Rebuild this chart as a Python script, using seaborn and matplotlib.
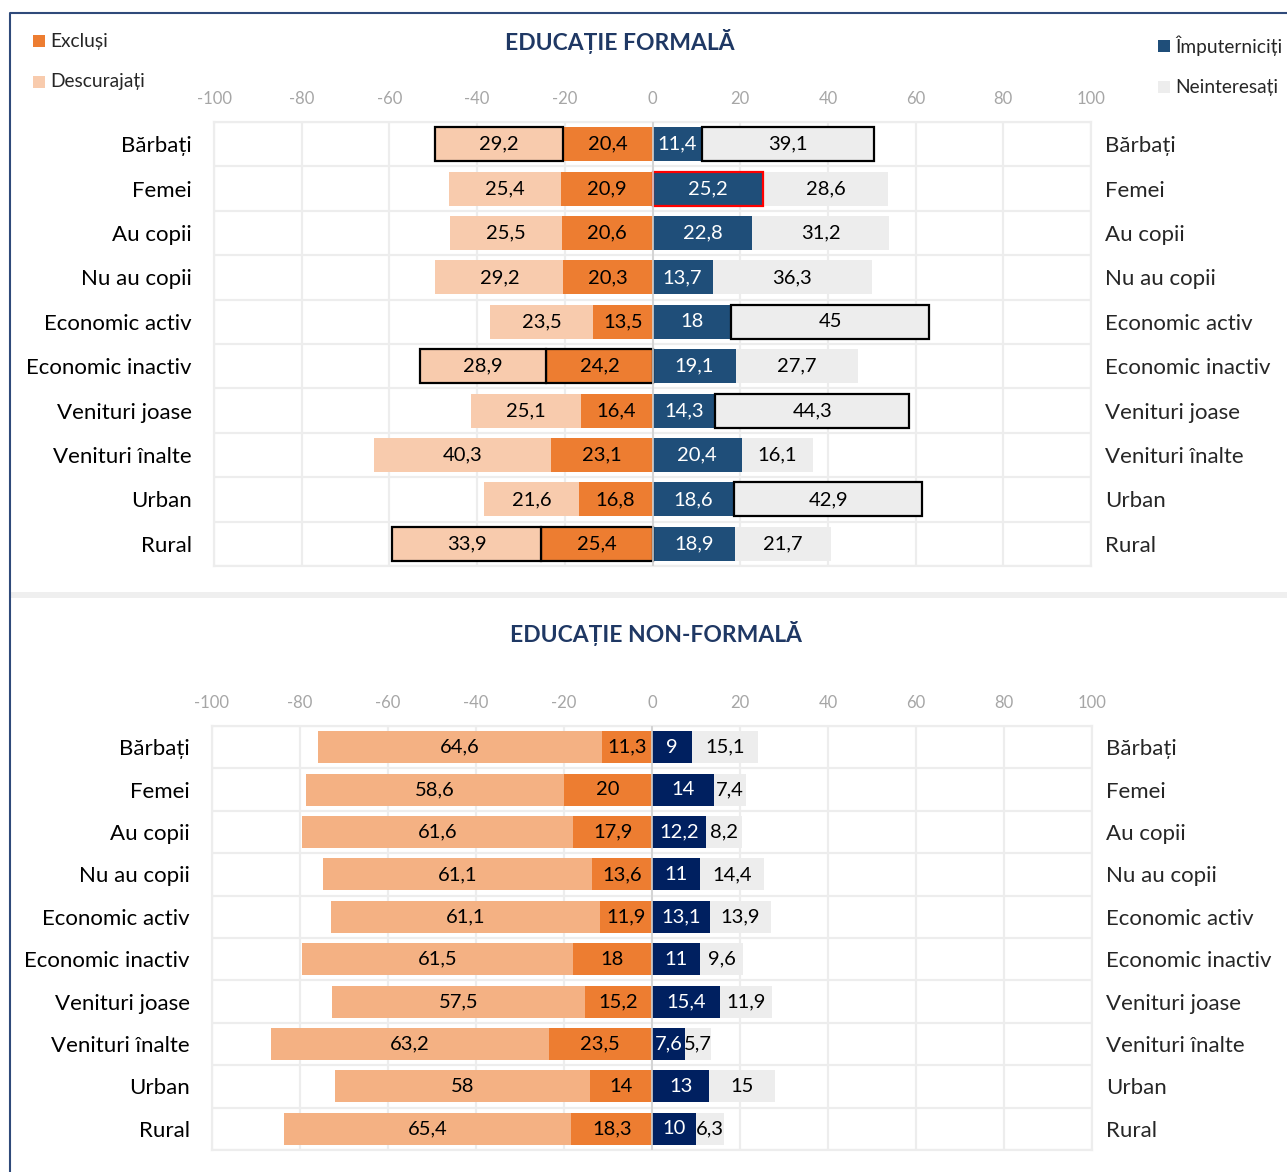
import numpy as np
import pandas as pd
import matplotlib.pyplot as plt
from matplotlib.patches import Rectangle
from matplotlib.lines import Line2D
import seaborn as sns

categories = ["Bărbați", "Femei", "Au copii", "Nu au copii", "Economic activ",
              "Economic inactiv", "Venituri joase", "Venituri înalte", "Urban", "Rural"]

# EDUCAȚIE FORMALĂ
f_descurajati = [29.2, 25.4, 25.5, 29.2, 23.5, 28.9, 25.1, 40.3, 21.6, 33.9]
f_exclusi = [20.4, 20.9, 20.6, 20.3, 13.5, 24.2, 16.4, 23.1, 16.8, 25.4]
f_imputerniciti = [11.4, 25.2, 22.8, 13.7, 18, 19.1, 14.3, 20.4, 18.6, 18.9]
f_neinteresati = [39.1, 28.6, 31.2, 36.3, 45, 27.7, 44.3, 16.1, 42.9, 21.7]

# EDUCAȚIE NON-FORMALĂ
nf_descurajati = [64.6, 58.6, 61.6, 61.1, 61.1, 61.5, 57.5, 63.2, 58, 65.4]
nf_exclusi = [11.3, 20, 17.9, 13.6, 11.9, 18, 15.2, 23.5, 14, 18.3]
nf_imputerniciti = [9, 14, 12.2, 11, 13.1, 11, 15.4, 7.6, 13, 10]
nf_neinteresati = [15.1, 7.4, 8.2, 14.4, 13.9, 9.6, 11.9, 5.7, 15, 6.3]

x_ticks = list(range(-100, 101, 20))

# highlighted segments in the formal chart (row, series) -> edge colour
f_outlines = {(0, "desc"): "black", (0, "neint"): "black", (1, "imp"): "#FF0000",
              (4, "neint"): "black", (5, "desc"): "black", (5, "excl"): "black",
              (6, "neint"): "black", (8, "neint"): "black",
              (9, "desc"): "black", (9, "excl"): "black"}

sns.set_theme(style="white")
plt.rcParams["font.family"] = ["Lato", "DejaVu Sans"]
plt.rcParams["axes.unicode_minus"] = False

GRID = "#EDEDED"


def fmt(v):
    return f"{v:g}".replace(".", ",")


def draw_panel(ax, desc, excl, imp, neint, colors, outlines, width):
    df = pd.DataFrame({"cat": categories, "desc": desc, "excl": excl,
                       "imp": imp, "neint": neint})
    # column, direction, column it is stacked on, colour, text colour
    layers = [("excl", -1, None, colors[0], "black"),
              ("desc", -1, "excl", colors[1], "black"),
              ("imp", 1, None, colors[2], "white"),
              ("neint", 1, "imp", colors[3], "black")]
    for col, sign, base, color, tcol in layers:
        sns.barplot(x=sign * df[col], y=df["cat"], orient="h", color=color,
                    width=width, saturation=1, errorbar=None, ax=ax, zorder=3)
        cont = ax.containers[-1]
        for i, patch in enumerate(cont.patches):
            if base is not None:
                patch.set_x(sign * df[base][i])
            ec = outlines.get((i, col))
            if ec:
                patch.set_edgecolor(ec)
                patch.set_linewidth(1.6)
                patch.set_zorder(3.5)
            else:
                patch.set_linewidth(0)
        ax.bar_label(cont, labels=[fmt(v) for v in df[col]], label_type="center",
                     color=tcol, fontsize=14.5, zorder=5)

    ax.set_xlim(-100, 100)
    ax.set_ylim(9.5, -0.5)
    ax.set_xlabel("")
    ax.set_ylabel("")
    ax.set_xticks(x_ticks)
    ax.set_yticks(np.arange(-0.5, 10, 1), minor=True)
    ax.set_axisbelow(True)
    ax.grid(axis="x", which="major", color=GRID, lw=1.6)
    ax.grid(axis="y", which="minor", color=GRID, lw=1.6)
    ax.axvline(0, color="#D0D0D0", lw=1.2, zorder=4)
    for s in ax.spines.values():
        s.set_color(GRID)
        s.set_linewidth(1.6)
    ax.tick_params(axis="x", top=True, labeltop=True, bottom=False, labelbottom=False,
                   length=0, pad=11, labelcolor="#A6A6A6", labelsize=12)
    ax.tick_params(axis="y", which="both", length=0, pad=16, labelsize=16,
                   labelcolor="black")

    sec = ax.secondary_yaxis("right")
    sec.set_yticks(range(len(categories)), labels=categories)
    sec.tick_params(length=0, pad=10, labelsize=16, labelcolor="#262626")
    for s in sec.spines.values():
        s.set_visible(False)


W, H = 1287, 1172
fig = plt.figure(figsize=(W / 100, H / 100), dpi=100)

ax1 = fig.add_axes([214 / W, 1 - 566 / H, 877 / W, 444 / H])
ax2 = fig.add_axes([212 / W, 1 - 1150 / H, 880 / W, 424 / H])

draw_panel(ax1, f_descurajati, f_exclusi, f_imputerniciti, f_neinteresati,
           ["#ED7D31", "#F8CBAD", "#1F4E79", "#EDEDED"], f_outlines, 0.77)
draw_panel(ax2, nf_descurajati, nf_exclusi, nf_imputerniciti, nf_neinteresati,
           ["#ED7D31", "#F4B183", "#002060", "#EDEDED"], {}, 0.755)

title_kw = dict(ha="center", va="center", fontsize=16.5, fontweight="bold", color="#1F3864")
fig.text(620 / W, 1 - 42 / H, "EDUCAȚIE FORMALĂ", **title_kw)
fig.text(656 / W, 1 - 633 / H, "EDUCAȚIE NON-FORMALĂ", **title_kw)

# legend
legend_items = [("Excluși", "#ED7D31", 33, 41), ("Descurajați", "#F8CBAD", 33, 82),
                ("Împuterniciți", "#1F4E79", 1158, 46), ("Neinteresați", "#EDEDED", 1158, 87)]
for label, color, x, y in legend_items:
    fig.add_artist(Rectangle((x / W, 1 - (y + 6) / H), 12 / W, 12 / H,
                             transform=fig.transFigure, color=color, lw=0))
    fig.text((x + 17) / W, 1 - y / H, label, ha="left", va="center",
             fontsize=13.8, color="#262626")

# frame and separator
fig.add_artist(Line2D([10 / W, 10 / W, 1], [0, 1 - 13 / H, 1 - 13 / H],
                      transform=fig.transFigure, color="#2F4A7A", lw=1.5))
fig.add_artist(Rectangle((11 / W, 1 - 598 / H), 1, 6 / H, transform=fig.transFigure,
                         color="#EFEFEF", lw=0))

fig.savefig("out.png", dpi=100)
